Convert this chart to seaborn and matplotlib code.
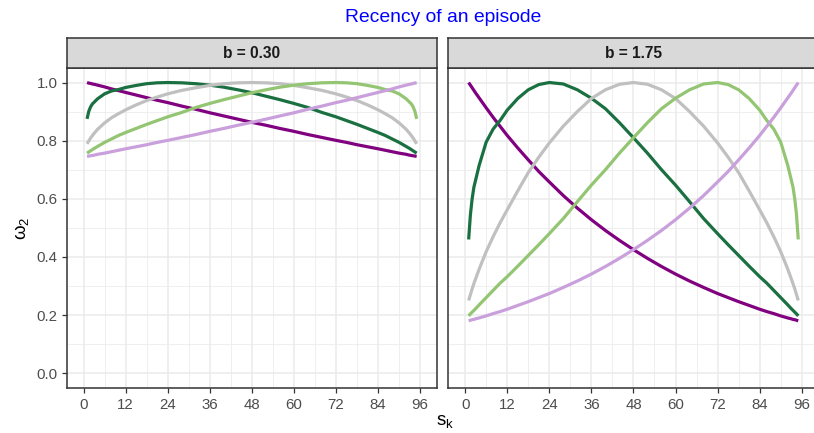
import numpy as np
import pandas as pd
import matplotlib
matplotlib.use("Agg")
import matplotlib.pyplot as plt
from matplotlib.ticker import FixedLocator
import seaborn as sns

# ---------------- data ----------------
s_k = [1, 1.5, 2, 2.5, 3, 4, 6, 8, 10, 12, 15, 18, 21, 24, 28, 32, 36, 40, 44, 48,
       52, 56, 60, 64, 68, 72, 75, 78, 81, 84, 86, 88, 90, 92, 93, 93.5, 94, 94.5, 95]

b_labels = ["b = 0.30", "b = 1.75"]
curve_names = ["peak 1", "peak 24", "peak 48", "peak 72", "peak 96"]
curve_colors = ["#800080", "#1A7040", "#C0C0C0", "#93C572", "#C9A0DC"]

# b = 0.30
p1_lo = [1.000, 0.998, 0.997, 0.995, 0.994, 0.991, 0.985, 0.978, 0.972, 0.966, 0.957, 0.948,
         0.939, 0.931, 0.919, 0.908, 0.896, 0.885, 0.874, 0.863, 0.853, 0.842, 0.832, 0.821,
         0.811, 0.801, 0.794, 0.786, 0.779, 0.772, 0.767, 0.762, 0.757, 0.753, 0.750, 0.749,
         0.748, 0.747, 0.746]
p24_lo = [0.875, 0.901, 0.916, 0.926, 0.932, 0.944, 0.961, 0.971, 0.976, 0.983, 0.990, 0.996,
          0.999, 1.000, 0.999, 0.996, 0.991, 0.984, 0.975, 0.965, 0.953, 0.941, 0.928, 0.914,
          0.897, 0.882, 0.869, 0.856, 0.842, 0.828, 0.818, 0.806, 0.794, 0.780, 0.773, 0.769,
          0.765, 0.761, 0.757]
p48_lo = [0.789, 0.799, 0.809, 0.817, 0.825, 0.839, 0.861, 0.879, 0.893, 0.906, 0.923, 0.938,
          0.950, 0.961, 0.973, 0.982, 0.990, 0.996, 0.999, 1.000, 0.999, 0.996, 0.990, 0.982,
          0.973, 0.961, 0.950, 0.938, 0.923, 0.906, 0.893, 0.879, 0.861, 0.839, 0.825, 0.817,
          0.809, 0.799, 0.789]
p72_lo = [0.757, 0.761, 0.765, 0.769, 0.773, 0.780, 0.794, 0.806, 0.818, 0.828, 0.842, 0.856,
          0.869, 0.882, 0.897, 0.914, 0.928, 0.941, 0.953, 0.965, 0.975, 0.984, 0.991, 0.996,
          0.999, 1.000, 0.999, 0.996, 0.990, 0.983, 0.976, 0.971, 0.961, 0.944, 0.932, 0.926,
          0.916, 0.901, 0.875]
p96_lo = [0.746, 0.747, 0.748, 0.749, 0.750, 0.753, 0.757, 0.762, 0.767, 0.772, 0.779, 0.786,
          0.794, 0.801, 0.811, 0.821, 0.832, 0.842, 0.853, 0.863, 0.874, 0.885, 0.896, 0.908,
          0.919, 0.931, 0.939, 0.948, 0.957, 0.966, 0.972, 0.978, 0.985, 0.991, 0.994, 0.995,
          0.997, 0.998, 1.000]

# b = 1.75
p1_hi = [1.000, 0.991, 0.982, 0.973, 0.964, 0.947, 0.913, 0.880, 0.849, 0.818, 0.775, 0.734,
         0.694, 0.658, 0.611, 0.568, 0.528, 0.491, 0.457, 0.425, 0.395, 0.367, 0.341, 0.317,
         0.295, 0.274, 0.260, 0.246, 0.233, 0.220, 0.212, 0.205, 0.197, 0.190, 0.187, 0.185,
         0.184, 0.182, 0.180]
p24_hi = [0.460, 0.545, 0.600, 0.640, 0.665, 0.715, 0.795, 0.840, 0.870, 0.905, 0.945, 0.975,
          0.993, 1.000, 0.995, 0.975, 0.946, 0.910, 0.862, 0.810, 0.757, 0.700, 0.647, 0.590,
          0.532, 0.480, 0.442, 0.405, 0.368, 0.332, 0.310, 0.285, 0.260, 0.235, 0.222, 0.216,
          0.210, 0.204, 0.197]
p48_hi = [0.250, 0.270, 0.290, 0.308, 0.325, 0.358, 0.418, 0.470, 0.518, 0.562, 0.627, 0.690,
          0.743, 0.792, 0.850, 0.900, 0.945, 0.975, 0.994, 1.000, 0.994, 0.975, 0.945, 0.900,
          0.850, 0.792, 0.743, 0.690, 0.627, 0.562, 0.518, 0.470, 0.418, 0.358, 0.325, 0.308,
          0.290, 0.270, 0.250]
p72_hi = [0.197, 0.204, 0.210, 0.216, 0.222, 0.235, 0.260, 0.285, 0.310, 0.332, 0.368, 0.405,
          0.442, 0.480, 0.532, 0.590, 0.647, 0.700, 0.757, 0.810, 0.862, 0.910, 0.946, 0.975,
          0.995, 1.000, 0.993, 0.975, 0.945, 0.905, 0.870, 0.840, 0.795, 0.715, 0.665, 0.640,
          0.600, 0.545, 0.460]
p96_hi = [0.180, 0.182, 0.184, 0.185, 0.187, 0.190, 0.197, 0.205, 0.212, 0.220, 0.233, 0.246,
          0.260, 0.274, 0.295, 0.317, 0.341, 0.367, 0.395, 0.425, 0.457, 0.491, 0.528, 0.568,
          0.611, 0.658, 0.694, 0.734, 0.775, 0.818, 0.849, 0.880, 0.913, 0.947, 0.964, 0.973,
          0.982, 0.991, 1.000]

x_ticks = [0, 12, 24, 36, 48, 60, 72, 84, 96]
y_ticks = [0.0, 0.2, 0.4, 0.6, 0.8, 1.0]
y_tick_labels = ["0.0", "0.2", "0.4", "0.6", "0.8", "1.0"]

series = {
    b_labels[0]: [p1_lo, p24_lo, p48_lo, p72_lo, p96_lo],
    b_labels[1]: [p1_hi, p24_hi, p48_hi, p72_hi, p96_hi],
}
rows = []
for b, curves in series.items():
    for name, vals in zip(curve_names, curves):
        for s, w in zip(s_k, vals):
            rows.append({"b": b, "curve": name, "s": s, "w": w})
df = pd.DataFrame(rows)

# ---------------- styling ----------------
sns.set_theme(style="whitegrid")
plt.rcParams['font.family'] = ['Liberation Sans', 'DejaVu Sans']
plt.rcParams['mathtext.fontset'] = 'custom'
plt.rcParams['mathtext.rm'] = 'Liberation Sans'
plt.rcParams['mathtext.it'] = 'Liberation Sans:italic'

W, H = 814, 433
fig = plt.figure(figsize=(W / 100, H / 100), dpi=100)
fig.patch.set_facecolor("white")

panel_left_px = [66.7, 448.3]
panel_w_px = 370.3
panel_top_px, panel_bot_px = 68.0, 387.7
strip_top_px = 38.0

border = "#333333"
palette = dict(zip(curve_names, curve_colors))

for i, b in enumerate(b_labels):
    l = panel_left_px[i] / W
    ax = fig.add_axes([l, (H - panel_bot_px) / H, panel_w_px / W,
                       (panel_bot_px - panel_top_px) / H])
    ax.set_facecolor("white")
    ax.set_axisbelow(True)
    sub = df[df["b"] == b]
    sns.lineplot(data=sub, x="s", y="w", hue="curve", hue_order=curve_names,
                 palette=palette, linewidth=2.3, legend=False, ax=ax,
                 estimator=None, sort=False, solid_capstyle="butt",
                 solid_joinstyle="round")
    ax.set_xlim(-4.8, 100.8)
    ax.set_ylim(-0.05, 1.05)
    ax.xaxis.set_major_locator(FixedLocator(x_ticks))
    ax.xaxis.set_minor_locator(FixedLocator([6, 18, 30, 42, 54, 66, 78, 90]))
    ax.yaxis.set_major_locator(FixedLocator(y_ticks))
    ax.yaxis.set_minor_locator(FixedLocator([0.1, 0.3, 0.5, 0.7, 0.9]))
    ax.set_xticklabels([str(t) for t in x_ticks])
    ax.set_yticklabels(y_tick_labels)
    ax.grid(which="major", color="#EBEBEB", linewidth=1.1)
    ax.grid(which="minor", color="#EBEBEB", linewidth=0.55)
    ax.tick_params(which="major", length=3.6, width=0.9, color=border,
                   labelcolor="#4D4D4D", labelsize=10.8,
                   bottom=True, left=(i == 0), labelleft=(i == 0))
    ax.tick_params(axis="x", which="major", pad=3.8)
    ax.tick_params(axis="y", which="major", pad=3.0)
    ax.tick_params(which="minor", length=0)
    for sp in ax.spines.values():
        sp.set_color(border)
        sp.set_linewidth(1.1)
        sp.set_visible(True)
    ax.set_xlabel("")
    ax.set_ylabel("")

    sax = fig.add_axes([l, (H - panel_top_px) / H, panel_w_px / W,
                        (panel_top_px - strip_top_px) / H])
    sax.set_facecolor("#D9D9D9")
    sax.set_xticks([])
    sax.set_yticks([])
    sax.grid(False)
    for sp in sax.spines.values():
        sp.set_color(border)
        sp.set_linewidth(1.1)
    sax.text(0.5, 0.48, b, ha="center", va="center", fontsize=11.2,
             fontweight="bold", color="#1A1A1A", transform=sax.transAxes)

fig.text(443 / W, 1 - 18 / H, "Recency of an episode", ha="center", va="center",
         color="#0000FF", fontsize=13.9)
fig.text(445 / W, 1 - 421 / H, r"$\mathregular{s_k}$", ha="center", va="center",
         fontsize=13.5, color="black")
fig.text(22 / W, 1 - 228 / H, r"$\mathregular{ω_2}$", ha="center", va="center",
         rotation=90, fontsize=13.5, color="black")

fig.savefig("out.png", dpi=100, facecolor="white")
